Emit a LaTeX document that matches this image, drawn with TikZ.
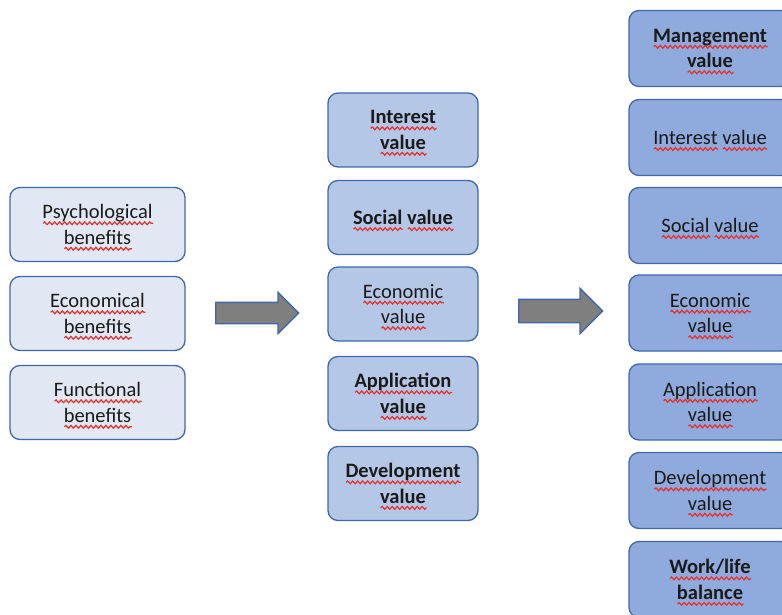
\documentclass[tikz,border=0pt]{standalone}
\usepackage{fontspec}
\setmainfont{Carlito}
\usetikzlibrary{shapes.arrows,decorations.pathmorphing}

\definecolor{edge}{HTML}{4068A8}
\definecolor{lightfill}{HTML}{E1E8F4}
\definecolor{midfill}{HTML}{B4C7E7}
\definecolor{darkfill}{HTML}{8FAADC}
\definecolor{arrowgray}{HTML}{7F7F7F}
\definecolor{squigred}{HTML}{E8302A}
\definecolor{ink}{HTML}{1A1A1A}

% a word with a red wavy underline
\newsavebox\wordbox
\newcommand\sq[1]{%
  \sbox\wordbox{#1}%
  \rlap{\smash{\tikz[baseline=0pt]\draw[squig] (0pt,-4.5pt) -- (\wd\wordbox,-4.5pt);}}%
  \usebox\wordbox}

\tikzset{
  squig/.style={draw=squigred, line width=1.2pt, sharp corners, decorate,
    decoration={snake, amplitude=1.4pt, segment length=5pt}},
  box/.style={draw=edge, line width=1.3pt, rounded corners=10pt, align=center,
    font=\fontsize{20.5}{25.5}\selectfont, text=ink, inner sep=0pt},
  strong/.style={font=\fontsize{20.5}{25.5}\selectfont\bfseries},
  benefit/.style={box, fill=lightfill, minimum width=175pt, minimum height=74pt},
  midval/.style={box, fill=midfill, minimum width=150pt, minimum height=74pt},
  rightval/.style={box, fill=darkfill, minimum width=162pt, minimum height=76pt},
  blockarrow/.style={single arrow, draw=edge, fill=arrowgray, line width=1.3pt,
    inner xsep=0pt, single arrow tip angle=90, anchor=tail}
}

\begin{document}
\begin{tikzpicture}[x=1pt, y=-1pt]
\useasboundingbox (0,0) rectangle (782,615);
\clip (0,0) rectangle (782,615);

% benefits
\node[benefit] (psy) at (97.5,224.5) {\sq{Psychological}\\\sq{benefits}};
\node[benefit] (eco) at (97.5,313.5) {\sq{Economical}\\\sq{benefits}};
\node[benefit] (fun) at (97.5,402.5) {\sq{Functional}\\\sq{benefits}};

% first arrow
\node[blockarrow, inner ysep=10pt, single arrow head extend=10pt,
  minimum width=40pt, minimum height=83pt] (arr1) at (215,313) {};

% values
\node[midval, strong] (mint) at (403,130) {\sq{Interest}\\\sq{value}};
\node[midval, strong] (msoc) at (403,217.5) {\sq{Social} \sq{value}};
\node[midval] (meco) at (403,304) {\sq{Economic}\\\sq{value}};
\node[midval, strong] (mapp) at (403,393.5) {\sq{Application}\\\sq{value}};
\node[midval, strong] (mdev) at (403,483.5) {\sq{Development}\\\sq{value}};

% second arrow
\node[blockarrow, inner ysep=11pt, single arrow head extend=11pt,
  minimum width=44pt, minimum height=84pt] (arr2) at (518,311) {};

% extended values
\node[rightval, strong] (rman) at (710,48.5) {\sq{Management}\\\sq{value}};
\node[rightval] (rint) at (710,137.5) {\sq{Interest} \sq{value}};
\node[rightval] (rsoc) at (710,225.5) {\sq{Social} \sq{value}};
\node[rightval] (reco) at (710,313) {\sq{Economic}\\\sq{value}};
\node[rightval] (rapp) at (710,402) {\sq{Application}\\\sq{value}};
\node[rightval] (rdev) at (710,490.5) {\sq{Development}\\\sq{value}};
\node[rightval, strong] (rwork) at (710,579.5) {\sq{Work/life}\\\sq{balance}};
\end{tikzpicture}
\end{document}
